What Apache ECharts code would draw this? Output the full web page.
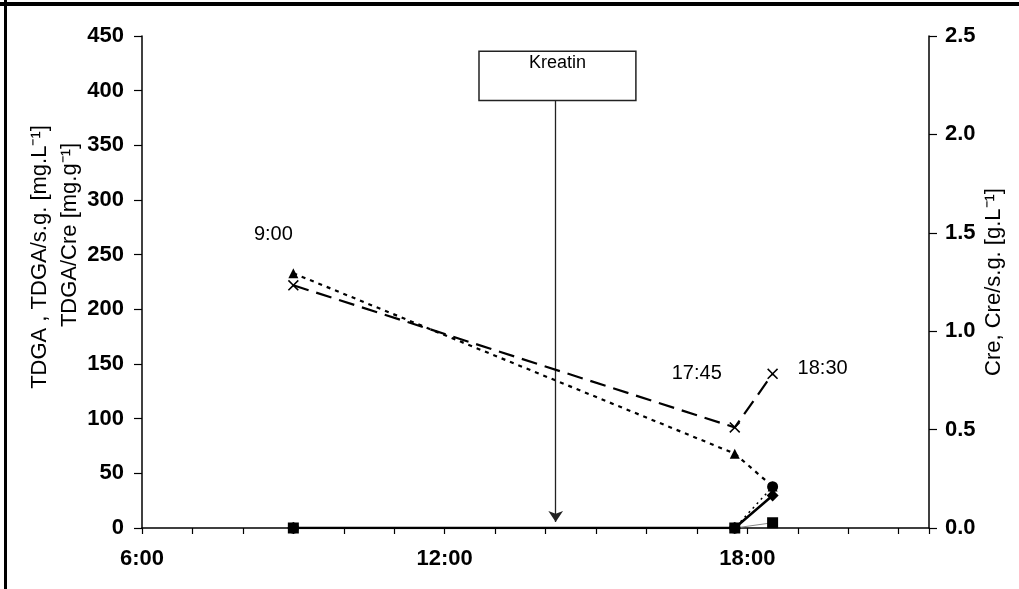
<!DOCTYPE html>
<html>
<head>
<meta charset="utf-8">
<script src="https://cdn.jsdelivr.net/npm/echarts@6/dist/echarts.min.js"></script>
<style>
html,body{margin:0;padding:0;background:#fff;}
#chart{width:1019px;height:589px;}
</style>
</head>
<body>
<div id="chart"></div>
<script>
// ---- data ----
const times = [9, 17.75, 18.5];               // hours
const timeLabels = ['9:00', '17:45', '18:30'];
const tdga = [233, 68, 38];                    // triangles, left axis
const tdgaCre = [222, 92, 141];                // crosses, left axis
const tdgaSg = [0, 0, 4.8];                    // squares, left axis
const cre = [0, 0, 0.165];                     // diamonds, right axis
const creSg = [0, 0, 0.21];                    // circles, right axis
const xTicks = [6, 12, 18];
const kreatinTime = 14.2;
const kreatinBox = {x0: 12.68, x1: 15.79, y0: 391, y1: 436};
const kreatinArrowEnd = 5.5;

const font = 'Liberation Sans, Arial, sans-serif';
const pair = (vals) => times.map((t, i) => [t, vals[i]]);
const crossPath = 'path://M0,1L1,0L5,4L9,0L10,1L6,5L10,9L9,10L5,6L1,10L0,9L4,5Z';
const labelOffsets = [[-20, -51], [-38, -54], [50, -5]];

const chart = echarts.init(document.getElementById('chart'));
chart.setOption({
  animation: false,
  backgroundColor: '#fff',
  grid: {left: 142, right: 90, top: 36, bottom: 61, outerBoundsMode: 'none', containLabel: false},
  xAxis: {
    type: 'value', min: 6, max: 21.6, interval: 1,
    axisLine: {lineStyle: {color: '#000', width: 1.5}},
    axisTick: {show: true, length: 6, lineStyle: {color: '#000', width: 1.2}},
    splitLine: {show: false},
    axisLabel: {
      color: '#000', fontFamily: font, fontWeight: 'bold', fontSize: 22, margin: 20,
      formatter: v => xTicks.includes(v) ? v + ':00' : ''
    }
  },
  yAxis: [{
    type: 'value', min: 0, max: 450, interval: 50, position: 'left',
    name: '{a|TDGA , TDGA/s.g. [mg.L\u207B\u00B9]}\n{b|TDGA/Cre [mg.g\u207B\u00B9]}',
    nameLocation: 'middle', nameGap: 57, nameRotate: 90, nameMoveOverlap: false,
    nameTextStyle: {color: '#000', fontFamily: font, fontSize: 22, lineHeight: 30,
      padding: [0, 0, 0, 50],
      rich: {
        a: {color: '#000', fontFamily: font, fontSize: 22, lineHeight: 30},
        b: {color: '#000', fontFamily: font, fontSize: 22, lineHeight: 30, padding: [0, 0, 0, 44]}
      }},
    axisLine: {show: true, lineStyle: {color: '#000', width: 1.5}},
    axisTick: {show: true, length: 8, lineStyle: {color: '#000', width: 1.2}},
    splitLine: {show: false},
    axisLabel: {color: '#000', fontFamily: font, fontWeight: 'bold', fontSize: 22, margin: 18}
  }, {
    type: 'value', min: 0, max: 2.5, interval: 0.5, position: 'right',
    name: 'Cre, Cre/s.g. [g.L\u207B\u00B9]',
    nameLocation: 'middle', nameGap: 54, nameRotate: 90, nameMoveOverlap: false,
    nameTextStyle: {color: '#000', fontFamily: font, fontSize: 22},
    axisLine: {show: true, lineStyle: {color: '#000', width: 1.5}},
    axisTick: {show: true, length: 8, lineStyle: {color: '#000', width: 1.2}},
    splitLine: {show: false},
    axisLabel: {color: '#000', fontFamily: font, fontWeight: 'bold', fontSize: 22, margin: 16,
      formatter: v => v.toFixed(1)}
  }],
  series: [
    {
      name: 'TDGA/s.g.', type: 'line', yAxisIndex: 0, data: pair(tdgaSg),
      symbol: 'rect', symbolSize: 11, itemStyle: {color: '#000'},
      lineStyle: {color: '#888', width: 1}, z: 2
    },
    {
      name: 'Cre', type: 'line', yAxisIndex: 1, data: pair(cre),
      symbol: 'diamond', symbolSize: 12, itemStyle: {color: '#000'},
      lineStyle: {color: '#000', width: 2.5}, z: 3
    },
    {
      name: 'Cre/s.g.', type: 'line', yAxisIndex: 1, data: pair(creSg),
      symbol: 'circle', symbolSize: 11, itemStyle: {color: '#000'},
      lineStyle: {color: '#000', width: 1.5, type: [2, 4]}, z: 3
    },
    {
      name: 'TDGA', type: 'line', yAxisIndex: 0, data: pair(tdga),
      symbol: 'triangle', symbolSize: 10, itemStyle: {color: '#000'},
      lineStyle: {color: '#000', width: 2.2, type: [4, 5]}, z: 4,
      markArea: {
        silent: true,
        itemStyle: {color: '#fff', borderColor: '#222', borderWidth: 1.5},
        label: {show: true, position: 'insideTop', distance: 3, color: '#000',
          fontFamily: font, fontSize: 18},
        data: [[{name: 'Kreatin', coord: [kreatinBox.x0, kreatinBox.y1]},
                {coord: [kreatinBox.x1, kreatinBox.y0]}]]
      },
      markLine: {
        silent: true, symbol: ['none', 'arrow'], symbolSize: 11,
        lineStyle: {color: '#222', width: 1.3, type: 'solid'},
        label: {show: false},
        data: [[{coord: [kreatinTime, kreatinBox.y0]}, {coord: [kreatinTime, kreatinArrowEnd]}]]
      }
    },
    {
      name: 'TDGA/Cre', type: 'line', yAxisIndex: 0,
      data: times.map((t, i) => ({
        value: [t, tdgaCre[i]], name: timeLabels[i],
        label: {show: true, formatter: '{b}', position: 'inside', offset: labelOffsets[i],
          color: '#000', fontFamily: font, fontSize: 20}
      })),
      symbol: crossPath, symbolSize: 11, itemStyle: {color: '#000'},
      lineStyle: {color: '#000', width: 2.2, type: [16, 8]}, z: 5
    }
  ],
  graphic: [
    {type: 'rect', shape: {x: 0, y: 2, width: 1019, height: 4}, style: {fill: '#000'}, silent: true},
    {type: 'rect', shape: {x: 4, y: 0, width: 3, height: 589}, style: {fill: '#000'}, silent: true}
  ]
});
</script>
</body>
</html>
